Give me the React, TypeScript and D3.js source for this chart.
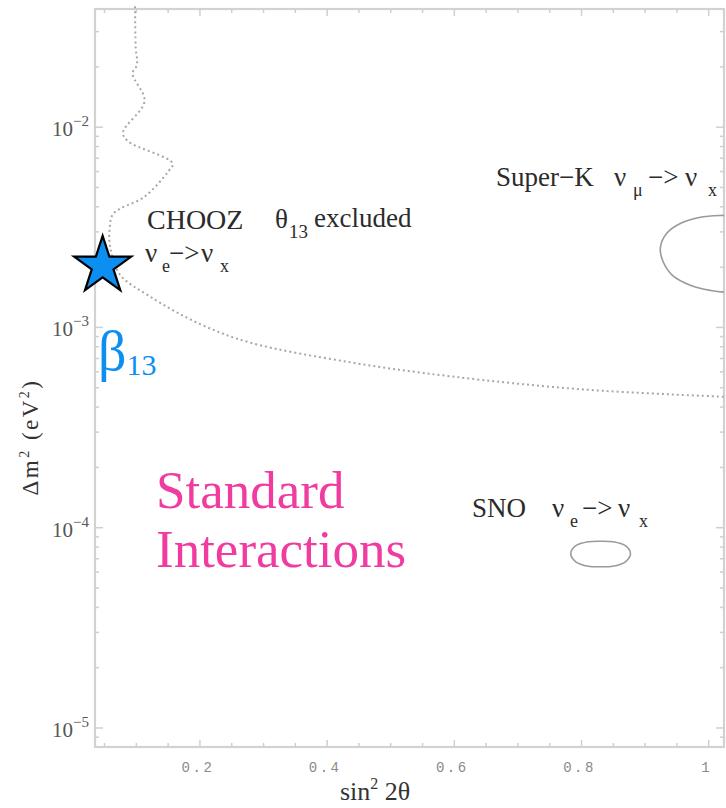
import React from "react";
import * as d3 from "d3";

// sin^2(2θ) vs Δm^2 (eV^2)
const choozCurve: [number, number][] = [
  [0.098, 0.045], [0.098, 0.039], [0.099, 0.025], [0.101, 0.0205], [0.094, 0.0185],
  [0.113, 0.0135], [0.079, 0.0094], [0.087, 0.0085], [0.157, 0.0066], [0.15, 0.006],
  [0.113, 0.0045], [0.064, 0.0037], [0.058, 0.0031], [0.059, 0.0025], [0.074, 0.00184],
  [0.121, 0.00143], [0.2, 0.00104], [0.279, 0.00084], [0.436, 0.00067],
  [0.594, 0.00057], [0.803, 0.00049], [1.03, 0.00045],
];

const superKContour: [number, number][] = [
  [1.03, 0.00364], [1.025, 0.00363], [0.987, 0.00355], [0.956, 0.00331], [0.934, 0.00295],
  [0.924, 0.00251], [0.928, 0.00214], [0.943, 0.00182], [0.972, 0.00162],
  [1.003, 0.00153], [1.025, 0.0015], [1.03, 0.0015],
];

const snoContour: [number, number][] = [
  [0.783, 7.41e-5], [0.791, 8.13e-5], [0.811, 8.51e-5], [0.83, 8.56e-5], [0.849, 8.51e-5],
  [0.869, 8.13e-5], [0.877, 7.41e-5], [0.869, 6.76e-5], [0.849, 6.42e-5], [0.83, 6.38e-5],
  [0.811, 6.42e-5], [0.791, 6.76e-5],
];

const beta13Point: [number, number] = [0.047, 0.00203];

const xMajorTicks = [0.2, 0.4, 0.6, 0.8, 1];
const xTickLabels = ["0.2", "0.4", "0.6", "0.8", "1"];
const yMajorTicks = [1e-2, 1e-3, 1e-4, 1e-5];
const yTickExponents = ["−2", "−3", "−4", "−5"];

const W = 726;
const H = 808;
const left = 95, right = 724, top = 9, bottom = 747;

const serif = "'Liberation Serif', 'Times New Roman', serif";
const axisGray = "#d2d2d2";
const textDark = "#2b2b2b";
const pink = "#f03ca0";
const blue = "#0d8ff2";

// "ν_a −> ν_b" with the pieces placed where the picture has them
function Transition({ x0, y0, a, b, xs }: { x0: number; y0: number; a: string; b: string; xs: number[] }) {
  return (
    <g>
      <text x={x0 + xs[0]} y={y0} fontSize={27}>ν</text>
      <text x={x0 + xs[1]} y={y0 + 10} fontSize={18}>{a}</text>
      <text x={x0 + xs[2]} y={y0} fontSize={27}>−&gt;</text>
      <text x={x0 + xs[3]} y={y0} fontSize={27}>ν</text>
      <text x={x0 + xs[4]} y={y0 + 10} fontSize={18}>{b}</text>
    </g>
  );
}

export default function App() {
  const x = d3.scaleLinear().domain([0.035, 1.024]).range([left, right]);
  const y = d3.scaleLog().domain([10 ** -5.095, 10 ** -1.41]).range([bottom, top]);

  const smooth = d3
    .line<[number, number]>()
    .x((d) => x(d[0]))
    .y((d) => y(d[1]))
    .curve(d3.curveCatmullRom.alpha(0.5));
  const closed = d3
    .line<[number, number]>()
    .x((d) => x(d[0]))
    .y((d) => y(d[1]))
    .curve(d3.curveCatmullRomClosed.alpha(0.5));

  // minor ticks
  const xMinor = d3.range(1, 21).map((i) => i * 0.05).filter((v) => v > 0.035 && v < 1.024);
  const yMinor: number[] = [];
  for (let e = -6; e <= -1; e++) {
    for (let m = 1; m <= 9; m++) {
      const v = m * 10 ** e;
      if (v > y.domain()[0] && v < y.domain()[1]) yMinor.push(v);
    }
  }

  const star = d3.symbol().type(d3.symbolStar).size(1010)();

  return (
    <div style={{ position: "absolute", left: 0, top: 0 }}>
      <svg width={W} height={H} style={{ display: "block", background: "#fff" }}>
        <defs>
          <clipPath id="plotClip">
            <rect x={left} y={4} width={right - left} height={bottom - 4} />
          </clipPath>
        </defs>

        {/* frame */}
        <rect x={left} y={top} width={right - left} height={bottom - top}
          fill="none" stroke={axisGray} strokeWidth={2.2} />

        {/* y ticks, both sides */}
        {yMinor.map((v, i) => {
          const major = yMajorTicks.some((t) => Math.abs(t - v) / t < 1e-6);
          const len = major ? 8 : 4;
          return (
            <g key={"yt" + i} stroke="#cfcfcf" strokeWidth={1.5}>
              <line x1={left} x2={left + len} y1={y(v)} y2={y(v)} />
              <line x1={right} x2={right - len} y1={y(v)} y2={y(v)} />
            </g>
          );
        })}

        {/* x ticks, both sides */}
        {xMinor.map((v, i) => {
          const major = xMajorTicks.some((t) => Math.abs(t - v) < 1e-6);
          const len = major ? 7 : 4;
          return (
            <g key={"xt" + i} stroke="#cfcfcf" strokeWidth={1.5}>
              <line x1={x(v)} x2={x(v)} y1={bottom} y2={bottom - len} />
              <line x1={x(v)} x2={x(v)} y1={top} y2={top + len} />
            </g>
          );
        })}

        {/* y tick labels */}
        {yMajorTicks.map((v, i) => (
          <text key={"yl" + i} x={89} y={y(v) + 9} textAnchor="end"
            fontFamily={serif} fontSize={21} fill="#555">
            10
            <tspan fontSize={15} dy={-10}>{yTickExponents[i]}</tspan>
          </text>
        ))}

        {/* x tick labels */}
        {xMajorTicks.map((v, i) => (
          <text key={"xl" + i} x={x(v) - 2} y={772} textAnchor="middle"
            fontFamily="'Liberation Mono', monospace" fontSize={14} fill="#8a8a8a"
            letterSpacing={2.5}>
            {xTickLabels[i]}
          </text>
        ))}

        {/* axis titles */}
        <text x={340} y={800} fontFamily={serif} fontSize={26} fill="#333">
          sin<tspan fontSize={16} dy={-11}>2</tspan>
          <tspan dy={11}> 2θ</tspan>
        </text>
        <text transform="translate(38,437) rotate(-90)" textAnchor="middle"
          fontFamily={serif} fontSize={23} fill="#333" letterSpacing={2.5}>
          Δm<tspan fontSize={14} dy={-9}>2</tspan>
          <tspan dy={9}> (eV</tspan>
          <tspan fontSize={14} dy={-9}>2</tspan>
          <tspan dy={9}>)</tspan>
        </text>

        <g clipPath="url(#plotClip)">
          {/* CHOOZ exclusion */}
          <path d={smooth(choozCurve) ?? ""} fill="none" stroke="#a8a8a8"
            strokeWidth={2} strokeDasharray="2,3" />
          {/* Super-K */}
          <path d={smooth(superKContour) ?? ""} fill="none" stroke="#9a9a9a" strokeWidth={1.6} />
          {/* SNO */}
          <path d={closed(snoContour) ?? ""} fill="none" stroke="#9a9a9a" strokeWidth={1.6} />
        </g>

        {/* labels */}
        <g fontFamily={serif} fill={textDark}>
          <text x={147} y={229} fontSize={28}>CHOOZ</text>
          <text x={275} y={228} fontSize={27}>θ</text>
          <text x={289} y={238} fontSize={19}>13</text>
          <text x={314} y={227} fontSize={27}>excluded</text>
          <Transition x0={145} y0={262} a="e" b="x" xs={[0, 17, 24, 56, 75]} />

          <text x={496} y={186} fontSize={27}>Super−K</text>
          <Transition x0={614} y0={186} a="μ" b="x" xs={[0, 19, 34, 71, 94]} />

          <text x={472} y={517} fontSize={27}>SNO</text>
          <Transition x0={552} y0={517} a="e" b="x" xs={[0, 18, 30, 66, 87]} />
        </g>

        {/* β13 star */}
        <path d={star ?? ""} transform={`translate(${x(beta13Point[0])},${y(beta13Point[1])})`}
          fill={blue} stroke="#000" strokeWidth={2.2} strokeLinejoin="miter" />
        <text x={98} y={370} fontFamily={serif} fontSize={56} fill={blue}>
          β<tspan fontSize={30} dy={5}>13</tspan>
        </text>

        <text fontFamily={serif} fontSize={53} fill={pink}>
          <tspan x={156} y={508}>Standard</tspan>
          <tspan x={156} y={567}>Interactions</tspan>
        </text>
      </svg>
    </div>
  );
}
